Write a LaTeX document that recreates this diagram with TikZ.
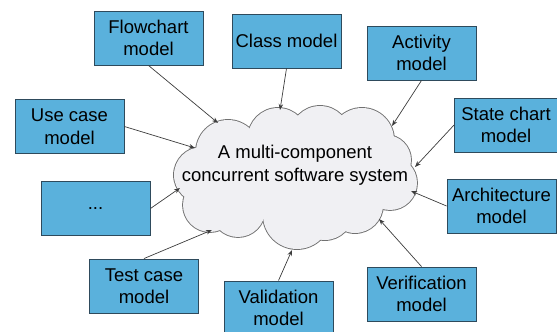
\documentclass[tikz,border=0pt]{standalone}
\usepackage{fontspec}
\setmainfont{Liberation Sans}
\usetikzlibrary{arrows.meta,shadows}
\definecolor{boxfill}{HTML}{5AB1DC}
\definecolor{boxline}{HTML}{2E4A5C}
\definecolor{cloudfill}{HTML}{F0F0F3}
\definecolor{cloudline}{HTML}{707070}
\definecolor{arrline}{HTML}{3C3C3C}
\begin{document}
\begin{tikzpicture}[x=1pt,y=-1pt,
  mbox/.style={draw=boxline,line width=0.9pt,fill=boxfill,minimum width=109pt,minimum height=54pt,
    inner sep=0pt,align=center,font=\fontsize{18.5}{22.5}\selectfont,
    drop shadow={shadow xshift=0.8pt,shadow yshift=-0.8pt,opacity=0.3,fill=black}},
  arr/.style={draw=arrline,line width=0.7pt,-{Stealth[length=6pt,width=4.5pt]}},
  puff/.style={draw=cloudline,line width=1.8pt},
  pufffill/.style={fill=cloudfill}]
\useasboundingbox (0,0) rectangle (557,332);
% cloud: union of puffs (outline drawn first, fill on top)
\def\puffs{228/152/32, 278/138/30, 320/136/30, 362/140/32, 386/160/25, 390/183/27,
  355/205/28, 325/212/28, 297/215/34, 238/210/27, 210/205/27, 202/175/28}
\foreach \cx/\cy/\r in \puffs {\path[puff] (\cx,\cy) circle[radius=\r];}
\path[puff] (295,178) ellipse[x radius=90,y radius=40];
\foreach \cx/\cy/\r in \puffs {\path[pufffill] (\cx,\cy) circle[radius=\r];}
\path[pufffill] (295,178) ellipse[x radius=90,y radius=40];
\node[align=center,inner sep=0pt,font=\fontsize{18.5}{22.5}\selectfont] (sys) at (295,165) {A multi-component\\concurrent software system};
% arrow ends on the cloud border
\coordinate (e1) at (218,123);
\coordinate (e2) at (280,110);
\coordinate (e3) at (392,126);
\coordinate (e4) at (415,167);
\coordinate (e5) at (195,148);
\coordinate (e6) at (180,188);
\coordinate (e7) at (212,230);
\coordinate (e8) at (292,250);
\coordinate (e9) at (379,219);
\coordinate (e10) at (411,191);
\node[mbox] (flow) at (148.5,38) {Flowchart\\model};
\node[mbox] (cls) at (286.5,41) {Class model};
\node[mbox] (act) at (421.5,53) {Activity\\model};
\node[mbox,minimum width=103pt] (st) at (506,125) {State chart\\model};
\node[mbox] (use) at (69.5,126.5) {Use case\\model};
\node[mbox] (dots) at (95.5,208.5) {...};
\node[mbox] (arch) at (501.5,206) {Architecture\\model};
\node[mbox] (test) at (144,286) {Test case\\model};
\node[mbox] (val) at (278.5,308) {Validation\\model};
\node[mbox] (ver) at (421.5,294) {Verification\\model};
\draw[arr] (flow.south) -- (e1);
\draw[arr] (cls.south) -- (e2);
\draw[arr] (act.south) -- (e3);
\draw[arr] (st.west) -- (e4);
\draw[arr] (use.east) -- (e5);
\draw[arr] (dots.east) -- (e6);
\draw[arr] (test.north) -- (e7);
\draw[arr] (val.north) -- (e8);
\draw[arr] (ver.north) -- (e9);
\draw[arr] (arch.west) -- (e10);
\end{tikzpicture}
\end{document}
